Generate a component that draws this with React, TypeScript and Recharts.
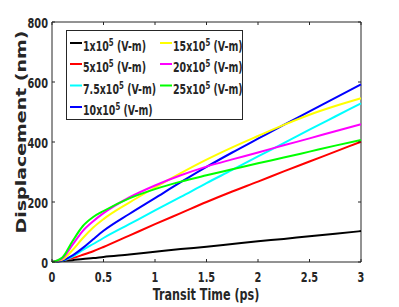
import React from "react";
import { LineChart, Line, XAxis, YAxis, ReferenceLine } from "recharts";

// transit time (ps)
const times = [0, 0.1, 0.2, 0.3, 0.4, 0.5, 0.75, 1, 1.25, 1.5, 1.75, 2, 2.25, 2.5, 2.75, 3];

// displacement (nm) per field strength
const field1 = [0, 3, 6, 10, 13, 17, 25, 34, 43, 51, 60, 69, 77, 86, 94, 103];
const field5 = [0, 5, 13, 24, 36, 50, 88, 126, 163, 200, 235, 268, 302, 335, 368, 401];
const field7_5 = [0, 4, 18, 40, 60, 80, 126, 172, 217, 263, 307, 352, 396, 441, 485, 529];
const field10 = [0, 5, 22, 47, 76, 104, 160, 213, 266, 317, 365, 411, 457, 502, 547, 592];
const field15 = [0, 8, 40, 80, 115, 143, 198, 248, 296, 341, 382, 420, 457, 491, 520, 546];
const field20 = [0, 12, 58, 104, 136, 163, 215, 255, 289, 318, 342, 365, 389, 412, 436, 459];
const field25 = [0, 15, 70, 120, 150, 170, 212, 243, 268, 289, 309, 329, 348, 368, 388, 407];

const fieldNames = ["1", "5", "7.5", "10", "15", "20", "25"];
const fieldColors = ["#000000", "#ff0000", "#00ffff", "#0000ff", "#ffff00", "#ff00ff", "#00ff00"];
const fieldSeries = [field1, field5, field7_5, field10, field15, field20, field25];

const xTicks = [0, 0.5, 1, 1.5, 2, 2.5, 3];
const yTicks = [0, 200, 400, 600, 800];

const data = times.map((t, i) => {
  const row: Record<string, number> = { t };
  fieldSeries.forEach((s, k) => {
    row["f" + k] = s[i];
  });
  return row;
});

const W = 399;
const H = 307;
const PLOT_TOP = 22;
const PLOT_RIGHT = 361;
const AXIS = "#262626";
const FONT = "'DejaVu Sans', sans-serif";
const SQ = 0.7; // horizontal squash of the original picture
const TICK = 3;

const XTick = (props: any) => {
  const { x, y, payload } = props;
  return (
    <g>
      <line x1={x} x2={x} y1={y} y2={y - TICK} stroke={AXIS} />
      <line x1={x} x2={x} y1={PLOT_TOP} y2={PLOT_TOP + TICK} stroke={AXIS} />
      <text
        transform={`translate(${x},${y + 20}) scale(${SQ},1)`}
        textAnchor="middle"
        fontFamily={FONT}
        fontWeight="bold"
        fontSize={14}
        fill={AXIS}
      >
        {payload.value}
      </text>
    </g>
  );
};

const YTick = (props: any) => {
  const { x, y, payload } = props;
  return (
    <g>
      <line x1={x} x2={x + TICK} y1={y} y2={y} stroke={AXIS} />
      <line x1={PLOT_RIGHT} x2={PLOT_RIGHT - TICK} y1={y} y2={y} stroke={AXIS} />
      <text
        transform={`translate(${x - 4},${y + 6}) scale(${SQ},1)`}
        textAnchor="end"
        fontFamily={FONT}
        fontWeight="bold"
        fontSize={14}
        fill={AXIS}
      >
        {payload.value}
      </text>
    </g>
  );
};

function Overlay() {
  const rowBase = [51, 72, 93.5, 115];
  return (
    <svg
      width={W}
      height={H}
      style={{ position: "absolute", left: 0, top: 0, pointerEvents: "none" }}
    >
      <text
        transform={`translate(26,132) scale(${SQ},1) rotate(-90)`}
        textAnchor="middle"
        fontFamily={FONT}
        fontWeight="bold"
        fontSize={19}
        fill={AXIS}
      >
        Displacement (nm)
      </text>
      <text
        transform={`translate(206,300) scale(${SQ},1)`}
        textAnchor="middle"
        fontFamily={FONT}
        fontWeight="bold"
        fontSize={16}
        fill={AXIS}
      >
        Transit Time (ps)
      </text>
      <rect x={66.5} y={30.5} width={176} height={89} fill="#fff" stroke={AXIS} />
      {fieldNames.map((name, k) => {
        const col = k < 4 ? 0 : 1;
        const row = k < 4 ? k : k - 4;
        const lx = col === 0 ? 70 : 160;
        const base = rowBase[row];
        return (
          <g key={name}>
            <line
              x1={lx}
              x2={lx + 12}
              y1={base - 8}
              y2={base - 8}
              stroke={fieldColors[k]}
              strokeWidth={2}
            />
            <text
              transform={`translate(${lx + 13},${base}) scale(${SQ},1)`}
              fontFamily={FONT}
              fontWeight="bold"
              fontSize={13.5}
              fill={AXIS}
              style={{ whiteSpace: "pre" }}
            >
              <tspan>{name + "x10"}</tspan>
              <tspan dy={-5} fontSize={10}>5</tspan>
              <tspan dy={5}>{" (V-m)"}</tspan>
            </text>
          </g>
        );
      })}
    </svg>
  );
}

export default function App() {
  return (
    <div style={{ position: "absolute", left: 0, top: 0, width: W, height: H, background: "#fff" }}>
      <LineChart width={W} height={H} data={data} margin={{ top: PLOT_TOP, right: W - PLOT_RIGHT, bottom: 0, left: 0 }}>
        <XAxis
          dataKey="t"
          type="number"
          domain={[0, 3]}
          ticks={xTicks}
          interval={0}
          height={45}
          axisLine={{ stroke: AXIS }}
          tickLine={false}
          tickSize={0}
          tickMargin={0}
          tick={XTick}
        />
        <YAxis
          type="number"
          domain={[0, 800]}
          ticks={yTicks}
          interval={0}
          width={52}
          axisLine={{ stroke: AXIS }}
          tickLine={false}
          tickSize={0}
          tickMargin={0}
          tick={YTick}
        />
        <ReferenceLine y={800} stroke={AXIS} />
        <ReferenceLine x={3} stroke={AXIS} />
        {fieldNames.map((name, k) => (
          <Line
            key={name}
            dataKey={"f" + k}
            type="monotone"
            stroke={fieldColors[k]}
            strokeWidth={2}
            dot={false}
            isAnimationActive={false}
          />
        ))}
      </LineChart>
      <Overlay />
    </div>
  );
}
